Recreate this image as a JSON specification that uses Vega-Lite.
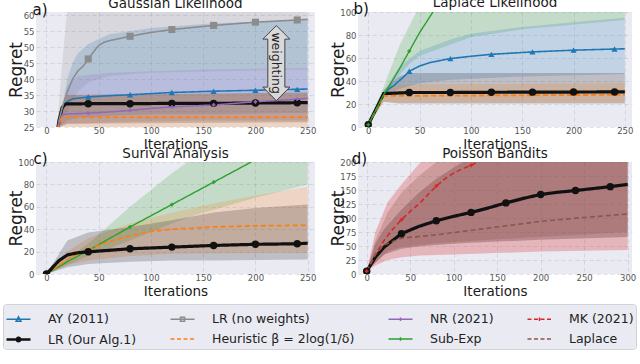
{
"$schema": "https://vega.github.io/schema/vega-lite/v6.json",
"padding": {"left": 2, "top": -5, "right": 0, "bottom": 0},
"config": {
 "font": "DejaVu Sans",
 "view": {"fill": "#eaeaf2", "stroke": null},
 "title": {"fontSize": 13.5, "fontWeight": "normal", "color": "#1a1a1a"},
 "axis": {"domain": false, "ticks": false, "tickSize": 0, "labelFontSize": 8.5, "labelColor": "#555", "labelOverlap": false, "labelFlush": false, "gridColor": "#9a9aa4", "gridDash": [4, 3], "gridOpacity": 0.35, "gridWidth": 0.8, "titleFontWeight": "normal", "titleColor": "#1a1a1a"},
 "axisX": {"titleFontSize": 13.5, "titlePadding": 3, "labelPadding": -1},
 "axisY": {"titleFontSize": 17, "titlePadding": 0, "labelPadding": 2, "minExtent": 11, "maxExtent": 11}
},
"datasets": {
 "L": [
  {"p":"a","s":"AY","x":0,"y":2},{"p":"a","s":"AY","x":12,"y":27},{"p":"a","s":"AY","x":15,"y":31},{"p":"a","s":"AY","x":20,"y":33},{"p":"a","s":"AY","x":25,"y":33.8},{"p":"a","s":"AY","x":40,"y":34.4},{"p":"a","s":"AY","x":60,"y":34.8},{"p":"a","s":"AY","x":80,"y":35.1},{"p":"a","s":"AY","x":120,"y":35.8},{"p":"a","s":"AY","x":160,"y":36.2},{"p":"a","s":"AY","x":200,"y":36.5},{"p":"a","s":"AY","x":240,"y":36.8},{"p":"a","s":"AY","x":250,"y":36.9},
  {"p":"a","s":"LR","x":0,"y":2},{"p":"a","s":"LR","x":12,"y":27},{"p":"a","s":"LR","x":15,"y":31},{"p":"a","s":"LR","x":18,"y":32.2},{"p":"a","s":"LR","x":40,"y":32.3},{"p":"a","s":"LR","x":80,"y":32.3},{"p":"a","s":"LR","x":120,"y":32.4},{"p":"a","s":"LR","x":160,"y":32.4},{"p":"a","s":"LR","x":200,"y":32.5},{"p":"a","s":"LR","x":240,"y":32.6},{"p":"a","s":"LR","x":250,"y":32.6},
  {"p":"a","s":"NW","x":0,"y":2},{"p":"a","s":"NW","x":12,"y":27},{"p":"a","s":"NW","x":15,"y":31},{"p":"a","s":"NW","x":20,"y":36},{"p":"a","s":"NW","x":25,"y":40},{"p":"a","s":"NW","x":30,"y":42.5},{"p":"a","s":"NW","x":35,"y":44},{"p":"a","s":"NW","x":40,"y":46.3},{"p":"a","s":"NW","x":45,"y":48.5},{"p":"a","s":"NW","x":50,"y":50.5},{"p":"a","s":"NW","x":55,"y":51.5},{"p":"a","s":"NW","x":60,"y":52},{"p":"a","s":"NW","x":80,"y":53.4},{"p":"a","s":"NW","x":100,"y":54.6},{"p":"a","s":"NW","x":120,"y":55.5},{"p":"a","s":"NW","x":160,"y":56.8},{"p":"a","s":"NW","x":200,"y":57.8},{"p":"a","s":"NW","x":240,"y":58.5},{"p":"a","s":"NW","x":250,"y":58.7},
  {"p":"a","s":"NR","x":0,"y":2},{"p":"a","s":"NR","x":12,"y":26},{"p":"a","s":"NR","x":15,"y":28.8},{"p":"a","s":"NR","x":20,"y":29.1},{"p":"a","s":"NR","x":40,"y":29.3},{"p":"a","s":"NR","x":60,"y":29.7},{"p":"a","s":"NR","x":80,"y":30.2},{"p":"a","s":"NR","x":100,"y":30.8},{"p":"a","s":"NR","x":120,"y":31.3},{"p":"a","s":"NR","x":160,"y":31.9},{"p":"a","s":"NR","x":200,"y":32.9},{"p":"a","s":"NR","x":240,"y":33.7},{"p":"a","s":"NR","x":250,"y":34},
  {"p":"a","s":"HE","x":0,"y":2},{"p":"a","s":"HE","x":12,"y":26},{"p":"a","s":"HE","x":15,"y":28},{"p":"a","s":"HE","x":250,"y":28},
  {"p":"b","s":"AY","x":0,"y":2},{"p":"b","s":"AY","x":15,"y":28},{"p":"b","s":"AY","x":20,"y":33},{"p":"b","s":"AY","x":25,"y":36},{"p":"b","s":"AY","x":30,"y":40},{"p":"b","s":"AY","x":35,"y":44},{"p":"b","s":"AY","x":40,"y":48.5},{"p":"b","s":"AY","x":50,"y":53},{"p":"b","s":"AY","x":60,"y":56},{"p":"b","s":"AY","x":80,"y":59.5},{"p":"b","s":"AY","x":100,"y":61.5},{"p":"b","s":"AY","x":120,"y":63.2},{"p":"b","s":"AY","x":160,"y":65.3},{"p":"b","s":"AY","x":200,"y":66.8},{"p":"b","s":"AY","x":240,"y":67.8},{"p":"b","s":"AY","x":250,"y":68},
  {"p":"b","s":"LR","x":0,"y":2},{"p":"b","s":"LR","x":15,"y":29},{"p":"b","s":"LR","x":40,"y":30},{"p":"b","s":"LR","x":80,"y":30},{"p":"b","s":"LR","x":120,"y":30.2},{"p":"b","s":"LR","x":160,"y":30.3},{"p":"b","s":"LR","x":200,"y":30.4},{"p":"b","s":"LR","x":240,"y":30.5},{"p":"b","s":"LR","x":250,"y":30.5},
  {"p":"b","s":"HE","x":0,"y":2},{"p":"b","s":"HE","x":15,"y":27},{"p":"b","s":"HE","x":250,"y":28},
  {"p":"b","s":"SE","x":0,"y":2},{"p":"b","s":"SE","x":15,"y":28},{"p":"b","s":"SE","x":20,"y":35},{"p":"b","s":"SE","x":30,"y":50},{"p":"b","s":"SE","x":40,"y":66},{"p":"b","s":"SE","x":50,"y":82},{"p":"b","s":"SE","x":63,"y":100},{"p":"b","s":"SE","x":80,"y":125},
  {"p":"c","s":"SE","x":0,"y":0},{"p":"c","s":"SE","x":20,"y":11},{"p":"c","s":"SE","x":40,"y":21},{"p":"c","s":"SE","x":80,"y":42},{"p":"c","s":"SE","x":120,"y":62},{"p":"c","s":"SE","x":160,"y":82},{"p":"c","s":"SE","x":200,"y":102},{"p":"c","s":"SE","x":250,"y":127},
  {"p":"c","s":"HE","x":0,"y":0},{"p":"c","s":"HE","x":20,"y":13},{"p":"c","s":"HE","x":40,"y":22},{"p":"c","s":"HE","x":60,"y":29},{"p":"c","s":"HE","x":80,"y":34},{"p":"c","s":"HE","x":100,"y":38},{"p":"c","s":"HE","x":120,"y":40},{"p":"c","s":"HE","x":160,"y":42},{"p":"c","s":"HE","x":200,"y":43},{"p":"c","s":"HE","x":250,"y":43.5},
  {"p":"c","s":"LR","x":0,"y":0},{"p":"c","s":"LR","x":12,"y":12},{"p":"c","s":"LR","x":20,"y":17},{"p":"c","s":"LR","x":30,"y":19},{"p":"c","s":"LR","x":40,"y":19.8},{"p":"c","s":"LR","x":80,"y":22.5},{"p":"c","s":"LR","x":120,"y":24},{"p":"c","s":"LR","x":160,"y":25.5},{"p":"c","s":"LR","x":200,"y":26.5},{"p":"c","s":"LR","x":240,"y":27},{"p":"c","s":"LR","x":250,"y":27.5},
  {"p":"d","s":"LR","x":0,"y":5},{"p":"d","s":"LR","x":10,"y":30},{"p":"d","s":"LR","x":20,"y":48},{"p":"d","s":"LR","x":40,"y":72},{"p":"d","s":"LR","x":60,"y":85},{"p":"d","s":"LR","x":80,"y":95},{"p":"d","s":"LR","x":100,"y":103},{"p":"d","s":"LR","x":120,"y":110},{"p":"d","s":"LR","x":140,"y":118},{"p":"d","s":"LR","x":160,"y":127},{"p":"d","s":"LR","x":180,"y":135},{"p":"d","s":"LR","x":200,"y":142},{"p":"d","s":"LR","x":220,"y":146},{"p":"d","s":"LR","x":240,"y":149},{"p":"d","s":"LR","x":280,"y":156},{"p":"d","s":"LR","x":300,"y":160},
  {"p":"d","s":"MK","x":0,"y":5},{"p":"d","s":"MK","x":10,"y":35},{"p":"d","s":"MK","x":20,"y":60},{"p":"d","s":"MK","x":30,"y":80},{"p":"d","s":"MK","x":40,"y":97},{"p":"d","s":"MK","x":50,"y":112},{"p":"d","s":"MK","x":60,"y":125},{"p":"d","s":"MK","x":80,"y":157},{"p":"d","s":"MK","x":90,"y":170},{"p":"d","s":"MK","x":100,"y":180},{"p":"d","s":"MK","x":110,"y":188},{"p":"d","s":"MK","x":120,"y":194},{"p":"d","s":"MK","x":130,"y":202},{"p":"d","s":"MK","x":160,"y":225},
  {"p":"d","s":"LA","x":0,"y":5},{"p":"d","s":"LA","x":10,"y":35},{"p":"d","s":"LA","x":20,"y":52},{"p":"d","s":"LA","x":40,"y":64},{"p":"d","s":"LA","x":80,"y":70},{"p":"d","s":"LA","x":120,"y":78},{"p":"d","s":"LA","x":160,"y":86},{"p":"d","s":"LA","x":200,"y":94},{"p":"d","s":"LA","x":250,"y":101},{"p":"d","s":"LA","x":300,"y":107}
 ],
 "B": [
  {"p":"a","s":"NW","x":0,"y":2,"hi":2},{"p":"a","s":"NW","x":11,"y":25,"hi":28},{"p":"a","s":"NW","x":15,"y":28,"hi":45},{"p":"a","s":"NW","x":20,"y":30,"hi":62},{"p":"a","s":"NW","x":30,"y":36,"hi":66},{"p":"a","s":"NW","x":40,"y":39,"hi":68},{"p":"a","s":"NW","x":60,"y":41,"hi":70},{"p":"a","s":"NW","x":100,"y":42,"hi":70},{"p":"a","s":"NW","x":250,"y":43,"hi":70},
  {"p":"a","s":"AY","x":0,"y":2,"hi":2},{"p":"a","s":"AY","x":12,"y":25,"hi":26},{"p":"a","s":"AY","x":20,"y":27,"hi":40},{"p":"a","s":"AY","x":25,"y":27.5,"hi":45},{"p":"a","s":"AY","x":30,"y":28,"hi":48},{"p":"a","s":"AY","x":40,"y":28,"hi":51},{"p":"a","s":"AY","x":60,"y":28.5,"hi":54},{"p":"a","s":"AY","x":100,"y":29,"hi":56},{"p":"a","s":"AY","x":160,"y":29,"hi":57.5},{"p":"a","s":"AY","x":250,"y":29.5,"hi":58.5},
  {"p":"a","s":"NR","x":0,"y":2,"hi":2},{"p":"a","s":"NR","x":12,"y":25,"hi":25.5},{"p":"a","s":"NR","x":20,"y":26,"hi":38},{"p":"a","s":"NR","x":30,"y":26,"hi":41},{"p":"a","s":"NR","x":60,"y":26.5,"hi":42},{"p":"a","s":"NR","x":150,"y":27,"hi":43},{"p":"a","s":"NR","x":250,"y":27,"hi":43.5},
  {"p":"a","s":"LR","x":0,"y":2,"hi":2},{"p":"a","s":"LR","x":12,"y":25,"hi":27},{"p":"a","s":"LR","x":20,"y":26,"hi":35},{"p":"a","s":"LR","x":250,"y":26.5,"hi":35.8},
  {"p":"a","s":"HE","x":0,"y":2,"hi":2},{"p":"a","s":"HE","x":12,"y":25,"hi":26},{"p":"a","s":"HE","x":18,"y":25,"hi":35},{"p":"a","s":"HE","x":250,"y":25,"hi":35.5},
  {"p":"b","s":"SE","x":0,"y":2,"hi":2},{"p":"b","s":"SE","x":15,"y":26,"hi":35},{"p":"b","s":"SE","x":30,"y":45,"hi":70},{"p":"b","s":"SE","x":40,"y":55,"hi":88},{"p":"b","s":"SE","x":50,"y":62,"hi":105},{"p":"b","s":"SE","x":100,"y":78,"hi":125},{"p":"b","s":"SE","x":150,"y":85,"hi":130},{"p":"b","s":"SE","x":250,"y":93,"hi":130},
  {"p":"b","s":"AY","x":0,"y":2,"hi":2},{"p":"b","s":"AY","x":15,"y":26,"hi":31},{"p":"b","s":"AY","x":30,"y":33,"hi":52},{"p":"b","s":"AY","x":50,"y":38,"hi":66},{"p":"b","s":"AY","x":80,"y":41,"hi":76},{"p":"b","s":"AY","x":100,"y":42,"hi":81},{"p":"b","s":"AY","x":150,"y":44,"hi":87},{"p":"b","s":"AY","x":200,"y":45,"hi":91},{"p":"b","s":"AY","x":250,"y":46,"hi":95},
  {"p":"b","s":"LR","x":0,"y":2,"hi":2},{"p":"b","s":"LR","x":15,"y":22,"hi":32},{"p":"b","s":"LR","x":30,"y":20.5,"hi":44},{"p":"b","s":"LR","x":40,"y":20.5,"hi":47},{"p":"b","s":"LR","x":250,"y":20.5,"hi":47},
  {"p":"b","s":"HE","x":0,"y":2,"hi":2},{"p":"b","s":"HE","x":15,"y":22,"hi":30},{"p":"b","s":"HE","x":30,"y":21,"hi":37},{"p":"b","s":"HE","x":250,"y":21,"hi":38},
  {"p":"c","s":"SE","x":0,"y":0,"hi":0},{"p":"c","s":"SE","x":20,"y":8,"hi":14},{"p":"c","s":"SE","x":40,"y":16,"hi":27},{"p":"c","s":"SE","x":80,"y":30,"hi":60},{"p":"c","s":"SE","x":120,"y":45,"hi":90},{"p":"c","s":"SE","x":140,"y":52,"hi":103},{"p":"c","s":"SE","x":200,"y":68,"hi":140},{"p":"c","s":"SE","x":250,"y":80,"hi":160},
  {"p":"c","s":"HE","x":0,"y":0,"hi":0},{"p":"c","s":"HE","x":20,"y":8,"hi":20},{"p":"c","s":"HE","x":40,"y":12,"hi":32},{"p":"c","s":"HE","x":80,"y":16,"hi":45},{"p":"c","s":"HE","x":120,"y":18,"hi":55},{"p":"c","s":"HE","x":160,"y":18.5,"hi":63},{"p":"c","s":"HE","x":200,"y":19,"hi":70},{"p":"c","s":"HE","x":250,"y":19,"hi":78},
  {"p":"c","s":"LR","x":0,"y":0,"hi":0},{"p":"c","s":"LR","x":20,"y":6,"hi":30},{"p":"c","s":"LR","x":40,"y":9,"hi":37},{"p":"c","s":"LR","x":80,"y":11,"hi":42},{"p":"c","s":"LR","x":120,"y":12,"hi":48},{"p":"c","s":"LR","x":160,"y":12,"hi":55},{"p":"c","s":"LR","x":200,"y":12.5,"hi":59},{"p":"c","s":"LR","x":250,"y":13,"hi":62},
  {"p":"d","s":"LR","x":0,"y":5,"hi":5},{"p":"d","s":"LR","x":10,"y":20,"hi":55},{"p":"d","s":"LR","x":20,"y":35,"hi":80},{"p":"d","s":"LR","x":40,"y":45,"hi":115},{"p":"d","s":"LR","x":60,"y":49,"hi":145},{"p":"d","s":"LR","x":80,"y":52,"hi":170},{"p":"d","s":"LR","x":100,"y":54,"hi":190},{"p":"d","s":"LR","x":120,"y":56,"hi":210},{"p":"d","s":"LR","x":200,"y":61,"hi":240},{"p":"d","s":"LR","x":300,"y":66,"hi":260},
  {"p":"d","s":"MK","x":0,"y":5,"hi":5},{"p":"d","s":"MK","x":10,"y":15,"hi":75},{"p":"d","s":"MK","x":24,"y":25,"hi":128},{"p":"d","s":"MK","x":40,"y":30,"hi":160},{"p":"d","s":"MK","x":62,"y":33,"hi":200},{"p":"d","s":"MK","x":100,"y":35,"hi":230},{"p":"d","s":"MK","x":200,"y":40,"hi":260},{"p":"d","s":"MK","x":300,"y":43,"hi":280},
  {"p":"d","s":"LA","x":0,"y":5,"hi":5},{"p":"d","s":"LA","x":10,"y":20,"hi":60},{"p":"d","s":"LA","x":24,"y":40,"hi":110},{"p":"d","s":"LA","x":40,"y":48,"hi":145},{"p":"d","s":"LA","x":60,"y":52,"hi":175},{"p":"d","s":"LA","x":80,"y":55,"hi":200},{"p":"d","s":"LA","x":150,"y":62,"hi":240},{"p":"d","s":"LA","x":300,"y":75,"hi":280}
 ]
},
"columns": 1,
"spacing": -5,
"resolve": {"scale": {"color": "independent", "shape": "independent", "strokeDash": "independent", "strokeWidth": "independent", "size": "independent"}},
"concat": [
 {"hconcat": [
  {"width": 279, "height": 115, "title": {"text": "Gaussian Likelihood", "offset": -7},
   "layer": [
    {"data": {"name": "B"}, "transform": [{"filter": "datum.p == 'a'"}], "mark": {"type": "area", "opacity": 0.2, "clip": true},
     "encoding": {
      "x": {"field": "x", "type": "quantitative", "scale": {"domain": [-10, 257], "nice": false, "zero": false}, "axis": {"title": "Iterations", "values": [0, 50, 100, 150, 200, 250], "labelOverlap": false}},
      "y": {"field": "y", "type": "quantitative", "scale": {"domain": [25, 61], "nice": false, "zero": false}, "axis": {"title": "Regret", "values": [25, 30, 35, 40, 45, 50, 55, 60], "labelOverlap": false}},
      "y2": {"field": "hi"},
      "color": {"field": "s", "type": "nominal", "scale": {"domain": ["AY","NW","NR","MK","LR","HE","SE","LA"], "range": ["#1f77b4","#8c8c8c","#9467bd","#d62728","#111111","#ff7f0e","#2ca02c","#8c564b"]}, "legend": null}}},
    {"data": {"name": "L"}, "transform": [{"filter": "datum.p == 'a'"}], "mark": {"type": "line", "clip": true},
     "encoding": {
      "x": {"field": "x", "type": "quantitative", "axis": {"title": "Iterations", "values": [0, 50, 100, 150, 200, 250], "labelOverlap": false}},
      "y": {"field": "y", "type": "quantitative", "axis": {"title": "Regret", "values": [25, 30, 35, 40, 45, 50, 55, 60], "labelOverlap": false}},
      "color": {"field": "s", "type": "nominal", "legend": null},
      "strokeDash": {"field": "s", "type": "nominal", "scale": {"domain": ["AY","NW","NR","MK","LR","HE","SE","LA"], "range": [[1,0],[1,0],[1,0],[5,3],[1,0],[5,3],[1,0],[5,3]]}, "legend": null},
      "strokeWidth": {"field": "s", "type": "nominal", "scale": {"type": "ordinal", "domain": ["AY","NW","NR","MK","LR","HE","SE","LA"], "range": [1.6,1.6,1.5,1.6,3.2,1.8,1.4,1.6]}, "legend": null}}},
    {"data": {"name": "L"}, "transform": [{"filter": "datum.p == 'a' && datum.x % 40 == 0 && datum.s != 'HE' && datum.s != 'LA'"}], "mark": {"type": "point", "filled": true, "opacity": 1, "clip": true},
     "encoding": {
      "x": {"field": "x", "type": "quantitative", "axis": {"title": "Iterations", "values": [0, 50, 100, 150, 200, 250], "labelOverlap": false}},
      "y": {"field": "y", "type": "quantitative", "axis": {"title": "Regret", "values": [25, 30, 35, 40, 45, 50, 55, 60], "labelOverlap": false}},
      "color": {"field": "s", "type": "nominal", "legend": null},
      "shape": {"field": "s", "type": "nominal", "scale": {"domain": ["AY","NW","NR","MK","LR","HE","SE","LA"], "range": ["triangle-up","square","cross","cross","circle","circle","cross","circle"]}, "legend": null},
      "size": {"field": "s", "type": "nominal", "scale": {"type": "ordinal", "domain": ["AY","NW","NR","MK","LR","HE","SE","LA"], "range": [38,50,14,14,55,10,14,10]}, "legend": null}}},
    {"data": {"values": [{}]}, "mark": {"type": "point", "shape": "M0,-1L0.36,-0.64L0.227,-0.64L0.227,0.64L0.36,0.64L0,1L-0.36,0.64L-0.227,0.64L-0.227,-0.64L-0.36,-0.64Z", "size": 5625, "filled": true, "fill": "#d9d9d9", "stroke": "#444444", "strokeWidth": 1, "opacity": 1},
     "encoding": {
      "x": {"datum": 220, "type": "quantitative", "axis": {"title": "Iterations", "values": [0, 50, 100, 150, 200, 250], "labelOverlap": false}},
      "y": {"datum": 45, "type": "quantitative", "axis": {"title": "Regret", "values": [25, 30, 35, 40, 45, 50, 55, 60], "labelOverlap": false}}}},
    {"data": {"values": [{}]}, "mark": {"type": "text", "angle": 90, "fontSize": 12.5, "color": "#222222", "baseline": "middle", "align": "center"},
     "encoding": {
      "x": {"datum": 220, "type": "quantitative", "axis": {"title": "Iterations", "values": [0, 50, 100, 150, 200, 250], "labelOverlap": false}},
      "y": {"datum": 45, "type": "quantitative", "axis": {"title": "Regret", "values": [25, 30, 35, 40, 45, 50, 55, 60], "labelOverlap": false}},
      "text": {"value": "weighting"}}},
    {"data": {"values": [{}]}, "mark": {"type": "text", "align": "right", "baseline": "alphabetic", "fontSize": 15, "color": "#111111"},
     "encoding": {
      "x": {"datum": 1, "type": "quantitative", "axis": {"title": "Iterations", "values": [0, 50, 100, 150, 200, 250], "labelOverlap": false}},
      "y": {"datum": 60, "type": "quantitative", "axis": {"title": "Regret", "values": [25, 30, 35, 40, 45, 50, 55, 60], "labelOverlap": false}},
      "text": {"value": "a)"}}}
   ]},
  {"width": 274, "height": 115, "title": {"text": "Laplace Likelihood", "offset": -7},
   "layer": [
    {"data": {"name": "B"}, "transform": [{"filter": "datum.p == 'b'"}], "mark": {"type": "area", "opacity": 0.2, "clip": true},
     "encoding": {
      "x": {"field": "x", "type": "quantitative", "scale": {"domain": [-10, 257], "nice": false, "zero": false}, "axis": {"title": "Iterations", "values": [0, 50, 100, 150, 200, 250], "labelOverlap": false}},
      "y": {"field": "y", "type": "quantitative", "scale": {"domain": [0, 100], "nice": false, "zero": false}, "axis": {"title": "Regret", "values": [0, 20, 40, 60, 80, 100], "labelOverlap": false}},
      "y2": {"field": "hi"},
      "color": {"field": "s", "type": "nominal", "scale": {"domain": ["AY","NW","NR","MK","LR","HE","SE","LA"], "range": ["#1f77b4","#8c8c8c","#9467bd","#d62728","#111111","#ff7f0e","#2ca02c","#8c564b"]}, "legend": null}}},
    {"data": {"name": "L"}, "transform": [{"filter": "datum.p == 'b'"}], "mark": {"type": "line", "clip": true},
     "encoding": {
      "x": {"field": "x", "type": "quantitative", "axis": {"title": "Iterations", "values": [0, 50, 100, 150, 200, 250], "labelOverlap": false}},
      "y": {"field": "y", "type": "quantitative", "axis": {"title": "Regret", "values": [0, 20, 40, 60, 80, 100], "labelOverlap": false}},
      "color": {"field": "s", "type": "nominal", "legend": null},
      "strokeDash": {"field": "s", "type": "nominal", "scale": {"domain": ["AY","NW","NR","MK","LR","HE","SE","LA"], "range": [[1,0],[1,0],[1,0],[5,3],[1,0],[5,3],[1,0],[5,3]]}, "legend": null},
      "strokeWidth": {"field": "s", "type": "nominal", "scale": {"type": "ordinal", "domain": ["AY","NW","NR","MK","LR","HE","SE","LA"], "range": [1.6,1.6,1.5,1.6,3.2,1.8,1.4,1.6]}, "legend": null}}},
    {"data": {"name": "L"}, "transform": [{"filter": "datum.p == 'b' && datum.x % 40 == 0 && datum.s != 'HE' && datum.s != 'LA'"}], "mark": {"type": "point", "filled": true, "opacity": 1, "clip": true},
     "encoding": {
      "x": {"field": "x", "type": "quantitative", "axis": {"title": "Iterations", "values": [0, 50, 100, 150, 200, 250], "labelOverlap": false}},
      "y": {"field": "y", "type": "quantitative", "axis": {"title": "Regret", "values": [0, 20, 40, 60, 80, 100], "labelOverlap": false}},
      "color": {"field": "s", "type": "nominal", "legend": null},
      "shape": {"field": "s", "type": "nominal", "scale": {"domain": ["AY","NW","NR","MK","LR","HE","SE","LA"], "range": ["triangle-up","square","cross","cross","circle","circle","cross","circle"]}, "legend": null},
      "size": {"field": "s", "type": "nominal", "scale": {"type": "ordinal", "domain": ["AY","NW","NR","MK","LR","HE","SE","LA"], "range": [38,50,14,14,55,10,14,10]}, "legend": null}}},
    {"data": {"values": [{}]}, "mark": {"type": "text", "align": "right", "baseline": "alphabetic", "fontSize": 15, "color": "#111111"},
     "encoding": {
      "x": {"datum": 0.5, "type": "quantitative", "axis": {"title": "Iterations", "values": [0, 50, 100, 150, 200, 250], "labelOverlap": false}},
      "y": {"datum": 98, "type": "quantitative", "axis": {"title": "Regret", "values": [0, 20, 40, 60, 80, 100], "labelOverlap": false}},
      "text": {"value": "b)"}}}
   ]}
 ], "spacing": 13},
 {"hconcat": [
  {"width": 279, "height": 112, "title": {"text": "Surival Analysis", "offset": -8},
   "layer": [
    {"data": {"name": "B"}, "transform": [{"filter": "datum.p == 'c'"}], "mark": {"type": "area", "opacity": 0.2, "clip": true},
     "encoding": {
      "x": {"field": "x", "type": "quantitative", "scale": {"domain": [-10, 257], "nice": false, "zero": false}, "axis": {"title": "Iterations", "values": [0, 50, 100, 150, 200, 250], "labelOverlap": false}},
      "y": {"field": "y", "type": "quantitative", "scale": {"domain": [0, 100], "nice": false, "zero": false}, "axis": {"title": "Regret", "values": [0, 20, 40, 60, 80, 100], "labelOverlap": false}},
      "y2": {"field": "hi"},
      "color": {"field": "s", "type": "nominal", "scale": {"domain": ["AY","NW","NR","MK","LR","HE","SE","LA"], "range": ["#1f77b4","#8c8c8c","#9467bd","#d62728","#111111","#ff7f0e","#2ca02c","#8c564b"]}, "legend": null}}},
    {"data": {"name": "L"}, "transform": [{"filter": "datum.p == 'c'"}], "mark": {"type": "line", "clip": true},
     "encoding": {
      "x": {"field": "x", "type": "quantitative", "axis": {"title": "Iterations", "values": [0, 50, 100, 150, 200, 250], "labelOverlap": false}},
      "y": {"field": "y", "type": "quantitative", "axis": {"title": "Regret", "values": [0, 20, 40, 60, 80, 100], "labelOverlap": false}},
      "color": {"field": "s", "type": "nominal", "legend": null},
      "strokeDash": {"field": "s", "type": "nominal", "scale": {"domain": ["AY","NW","NR","MK","LR","HE","SE","LA"], "range": [[1,0],[1,0],[1,0],[5,3],[1,0],[5,3],[1,0],[5,3]]}, "legend": null},
      "strokeWidth": {"field": "s", "type": "nominal", "scale": {"type": "ordinal", "domain": ["AY","NW","NR","MK","LR","HE","SE","LA"], "range": [1.6,1.6,1.5,1.6,3.2,1.8,1.4,1.6]}, "legend": null}}},
    {"data": {"name": "L"}, "transform": [{"filter": "datum.p == 'c' && datum.x % 40 == 0 && datum.s != 'HE' && datum.s != 'LA'"}], "mark": {"type": "point", "filled": true, "opacity": 1, "clip": true},
     "encoding": {
      "x": {"field": "x", "type": "quantitative", "axis": {"title": "Iterations", "values": [0, 50, 100, 150, 200, 250], "labelOverlap": false}},
      "y": {"field": "y", "type": "quantitative", "axis": {"title": "Regret", "values": [0, 20, 40, 60, 80, 100], "labelOverlap": false}},
      "color": {"field": "s", "type": "nominal", "legend": null},
      "shape": {"field": "s", "type": "nominal", "scale": {"domain": ["AY","NW","NR","MK","LR","HE","SE","LA"], "range": ["triangle-up","square","cross","cross","circle","circle","cross","circle"]}, "legend": null},
      "size": {"field": "s", "type": "nominal", "scale": {"type": "ordinal", "domain": ["AY","NW","NR","MK","LR","HE","SE","LA"], "range": [38,50,14,14,55,10,14,10]}, "legend": null}}},
    {"data": {"values": [{}]}, "mark": {"type": "text", "align": "right", "baseline": "alphabetic", "fontSize": 15, "color": "#111111"},
     "encoding": {
      "x": {"datum": 1, "type": "quantitative", "axis": {"title": "Iterations", "values": [0, 50, 100, 150, 200, 250], "labelOverlap": false}},
      "y": {"datum": 98, "type": "quantitative", "axis": {"title": "Regret", "values": [0, 20, 40, 60, 80, 100], "labelOverlap": false}},
      "text": {"value": "c)"}}}
   ]},
  {"width": 274, "height": 112, "title": {"text": "Poisson Bandits", "offset": -8},
   "layer": [
    {"data": {"name": "B"}, "transform": [{"filter": "datum.p == 'd'"}], "mark": {"type": "area", "opacity": 0.27, "clip": true},
     "encoding": {
      "x": {"field": "x", "type": "quantitative", "scale": {"domain": [-10, 305], "nice": false, "zero": false}, "axis": {"title": "Iterations", "values": [0, 50, 100, 150, 200, 250, 300], "labelOverlap": false}},
      "y": {"field": "y", "type": "quantitative", "scale": {"domain": [0, 200], "nice": false, "zero": false}, "axis": {"title": "Regret", "values": [0, 25, 50, 75, 100, 125, 150, 175, 200], "labelOverlap": false}},
      "y2": {"field": "hi"},
      "color": {"field": "s", "type": "nominal", "scale": {"domain": ["AY","NW","NR","MK","LR","HE","SE","LA"], "range": ["#1f77b4","#8c8c8c","#9467bd","#d62728","#111111","#ff7f0e","#2ca02c","#8c564b"]}, "legend": null}}},
    {"data": {"name": "L"}, "transform": [{"filter": "datum.p == 'd'"}], "mark": {"type": "line", "clip": true},
     "encoding": {
      "x": {"field": "x", "type": "quantitative", "axis": {"title": "Iterations", "values": [0, 50, 100, 150, 200, 250, 300], "labelOverlap": false}},
      "y": {"field": "y", "type": "quantitative", "axis": {"title": "Regret", "values": [0, 25, 50, 75, 100, 125, 150, 175, 200], "labelOverlap": false}},
      "color": {"field": "s", "type": "nominal", "legend": null},
      "strokeDash": {"field": "s", "type": "nominal", "scale": {"domain": ["AY","NW","NR","MK","LR","HE","SE","LA"], "range": [[1,0],[1,0],[1,0],[5,3],[1,0],[5,3],[1,0],[5,3]]}, "legend": null},
      "strokeWidth": {"field": "s", "type": "nominal", "scale": {"type": "ordinal", "domain": ["AY","NW","NR","MK","LR","HE","SE","LA"], "range": [1.6,1.6,1.5,1.6,3.2,1.8,1.4,1.6]}, "legend": null}}},
    {"data": {"name": "L"}, "transform": [{"filter": "datum.p == 'd' && datum.x % 40 == 0 && datum.s != 'HE' && datum.s != 'LA'"}], "mark": {"type": "point", "filled": true, "opacity": 1, "clip": true},
     "encoding": {
      "x": {"field": "x", "type": "quantitative", "axis": {"title": "Iterations", "values": [0, 50, 100, 150, 200, 250, 300], "labelOverlap": false}},
      "y": {"field": "y", "type": "quantitative", "axis": {"title": "Regret", "values": [0, 25, 50, 75, 100, 125, 150, 175, 200], "labelOverlap": false}},
      "color": {"field": "s", "type": "nominal", "legend": null},
      "shape": {"field": "s", "type": "nominal", "scale": {"domain": ["AY","NW","NR","MK","LR","HE","SE","LA"], "range": ["triangle-up","square","cross","cross","circle","circle","cross","circle"]}, "legend": null},
      "size": {"field": "s", "type": "nominal", "scale": {"type": "ordinal", "domain": ["AY","NW","NR","MK","LR","HE","SE","LA"], "range": [38,50,14,14,55,10,14,10]}, "legend": null}}},
    {"data": {"values": [{}]}, "mark": {"type": "text", "align": "right", "baseline": "alphabetic", "fontSize": 15, "color": "#111111"},
     "encoding": {
      "x": {"datum": 0.5, "type": "quantitative", "axis": {"title": "Iterations", "values": [0, 50, 100, 150, 200, 250, 300], "labelOverlap": false}},
      "y": {"datum": 196, "type": "quantitative", "axis": {"title": "Regret", "values": [0, 25, 50, 75, 100, 125, 150, 175, 200], "labelOverlap": false}},
      "text": {"value": "d)"}}}
   ]}
 ], "spacing": 13},
 {"data": {"name": "L"}, "transform": [{"filter": "false"}],
  "width": 630, "height": 18,
  "view": {"fill": null, "stroke": null},
  "mark": {"type": "point", "filled": false, "opacity": 1},
  "encoding": {
   "color": {"field": "s", "type": "nominal",
    "scale": {"domain": ["AY","LR","NW","HE","NR","SE","MK","LA"], "range": ["#1f77b4","#111111","#8c8c8c","#ff7f0e","#9467bd","#2ca02c","#d62728","#8c564b"]},
    "legend": {"title": null, "orient": "bottom-left", "offset": -33, "columns": 4, "symbolSize": 576, "labelFontSize": 12.5, "labelColor": "#222222", "labelOffset": 16, "columnPadding": 30, "rowPadding": -8, "padding": 2, "fillColor": "#eaeaf2", "strokeColor": "#d2d2da", "cornerRadius": 3, "symbolLimit": 0,
     "labelExpr": "datum.label == 'AY' ? 'AY (2011)' : datum.label == 'NW' ? 'LR (no weights)' : datum.label == 'NR' ? 'NR (2021)' : datum.label == 'MK' ? 'MK (2021)' : datum.label == 'LR' ? 'LR (Our Alg.1)' : datum.label == 'HE' ? 'Heuristic β = 2log(1/δ)' : datum.label == 'SE' ? 'Sub-Exp' : 'Laplace'"}},
   "shape": {"field": "s", "type": "nominal", "scale": {"domain": ["AY","LR","NW","HE","NR","SE","MK","LA"], "range": ["M-1,0L1,0M-0.2,0.17L0,-0.2L0.2,0.17Z", "M-1,0L1,0M-0.14,0A0.14,0.14,0,1,0,0.14,0A0.14,0.14,0,1,0,-0.14,0", "M-1,0L1,0M-0.17,-0.17L0.17,-0.17L0.17,0.17L-0.17,0.17Z", "M-1,0L1,0", "M-1,0L1,0M0,-0.15L0,0.15", "M-1,0L1,0M0,-0.15L0,0.15", "M-1,0L1,0M0,-0.15L0,0.15", "M-1,0L1,0"]}},
   "strokeDash": {"field": "s", "type": "nominal", "scale": {"domain": ["AY","LR","NW","HE","NR","SE","MK","LA"], "range": [[1,0],[1,0],[1,0],[4,2.5],[1,0],[1,0],[4,2.5],[4,2.5]]}},
   "strokeWidth": {"field": "s", "type": "nominal", "scale": {"type": "ordinal", "domain": ["AY","LR","NW","HE","NR","SE","MK","LA"], "range": [1.5,2.6,1.5,1.5,1.5,1.5,1.5,1.5]}}
  }}
]
}
